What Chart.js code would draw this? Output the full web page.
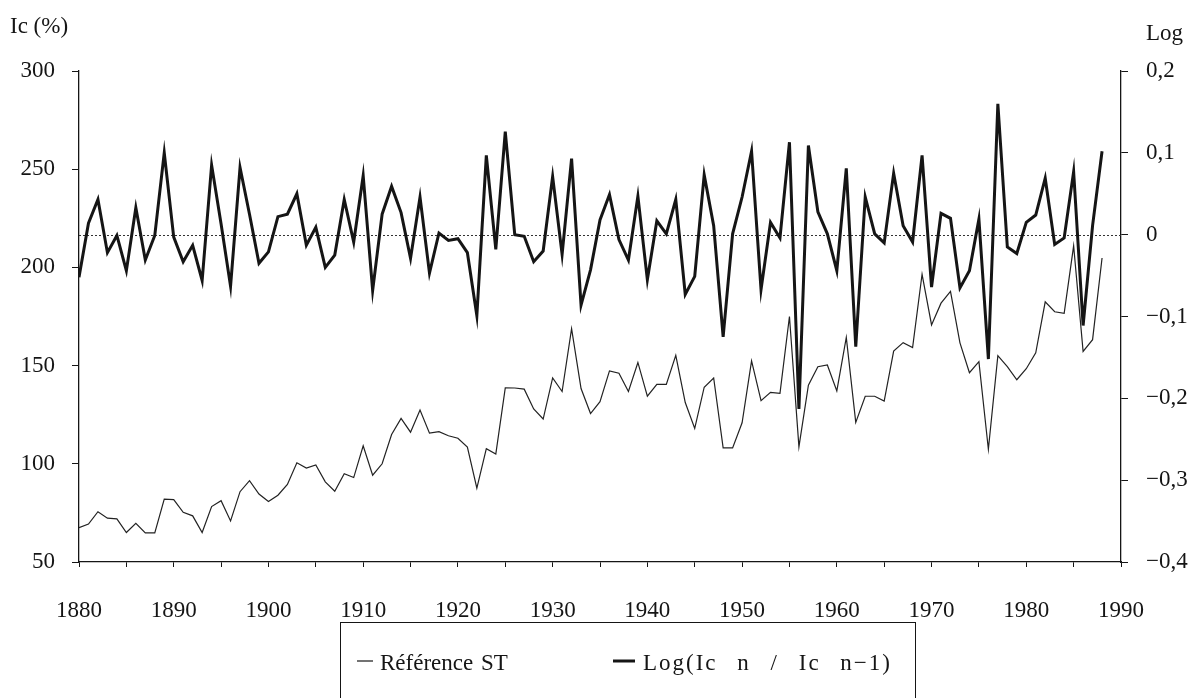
<!DOCTYPE html>
<html>
<head>
<meta charset="utf-8">
<script src="https://cdn.jsdelivr.net/npm/chart.js@4.4.1/dist/chart.umd.min.js"></script>
<style>
  html, body { margin: 0; padding: 0; background: #fff; }
  canvas { display: block; }
</style>
</head>
<body>
<canvas id="chart" width="1200" height="698"></canvas>
<script>
'use strict';

// Years of the two series.
var years = [
  1880, 1881, 1882, 1883, 1884, 1885, 1886, 1887, 1888, 1889,
  1890, 1891, 1892, 1893, 1894, 1895, 1896, 1897, 1898, 1899,
  1900, 1901, 1902, 1903, 1904, 1905, 1906, 1907, 1908, 1909,
  1910, 1911, 1912, 1913, 1914, 1915, 1916, 1917, 1918, 1919,
  1920, 1921, 1922, 1923, 1924, 1925, 1926, 1927, 1928, 1929,
  1930, 1931, 1932, 1933, 1934, 1935, 1936, 1937, 1938, 1939,
  1940, 1941, 1942, 1943, 1944, 1945, 1946, 1947, 1948, 1949,
  1950, 1951, 1952, 1953, 1954, 1955, 1956, 1957, 1958, 1959,
  1960, 1961, 1962, 1963, 1964, 1965, 1966, 1967, 1968, 1969,
  1970, 1971, 1972, 1973, 1974, 1975, 1976, 1977, 1978, 1979,
  1980, 1981, 1982, 1983, 1984, 1985, 1986, 1987, 1988
];

// Ic (%) - left axis.
var referenceST = [
  67.5, 69.3, 75.6, 72.3, 72.0, 65.0, 69.7, 64.8, 64.8, 82.0,
  81.8, 75.3, 73.5, 65.0, 78.2, 81.2, 70.9, 85.8, 91.4, 84.6,
  80.8, 84.0, 89.5, 100.5, 97.8, 99.4, 90.8, 86.0, 94.9, 93.0,
  109.2, 94.2, 100.0, 114.9, 123.1, 116.1, 127.4, 115.6, 116.4, 114.3,
  113.0, 108.5, 87.6, 107.7, 105.0, 138.7, 138.6, 138.0, 127.9, 122.8,
  143.7, 136.8, 168.8, 138.3, 125.6, 131.6, 147.3, 146.1, 136.8, 151.6,
  134.4, 140.4, 140.4, 155.2, 131.2, 118.0, 139.0, 143.7, 108.1, 108.1,
  120.9, 152.4, 132.1, 136.4, 135.9, 175.0, 108.6, 140.0, 149.4, 150.3,
  137.1, 164.3, 121.1, 134.4, 134.4, 131.9, 157.4, 161.7, 159.2, 196.5,
  170.7, 181.8, 187.8, 161.6, 146.4, 152.0, 107.4, 155.1, 149.5, 142.8,
  148.4, 156.5, 182.5, 177.4, 176.6, 211.0, 157.2, 163.2, 204.8
];

// Log(Ic n / Ic n-1) - right axis.
var logRatio = [
  -0.052, 0.014, 0.043, -0.022, -0.001, -0.044, 0.033, -0.031, -0.001, 0.100,
  -0.003, -0.033, -0.013, -0.056, 0.085, 0.013, -0.063, 0.082, 0.025, -0.035,
  -0.021, 0.022, 0.025, 0.050, -0.013, 0.009, -0.040, -0.025, 0.043, -0.009,
  0.072, -0.068, 0.025, 0.059, 0.027, -0.029, 0.046, -0.047, 0.002, -0.007,
  -0.005, -0.022, -0.099, 0.097, -0.018, 0.126, 0.000, -0.002, -0.033, -0.020,
  0.071, -0.024, 0.093, -0.086, -0.043, 0.018, 0.049, -0.006, -0.031, 0.047,
  -0.055, 0.017, 0.001, 0.043, -0.073, -0.051, 0.073, 0.011, -0.125, 0.001,
  0.046, 0.102, -0.067, 0.015, -0.004, 0.113, -0.213, 0.109, 0.028, 0.001,
  -0.044, 0.081, -0.137, 0.046, 0.001, -0.010, 0.075, 0.011, -0.009, 0.097,
  -0.064, 0.026, 0.020, -0.065, -0.044, 0.019, -0.152, 0.160, -0.015, -0.023,
  0.015, 0.024, 0.069, -0.012, -0.004, 0.077, -0.111, 0.011, 0.102
];

// Axis ticks.
var xTickValues = [
  1880, 1885, 1890, 1895, 1900, 1905, 1910, 1915, 1920, 1925, 1930, 1935,
  1940, 1945, 1950, 1955, 1960, 1965, 1970, 1975, 1980, 1985, 1990
];
var xLabelYears = [1880, 1890, 1900, 1910, 1920, 1930, 1940, 1950, 1960, 1970, 1980, 1990];
var leftTicks = [50, 100, 150, 200, 250, 300];
var rightTicks = [-0.4, -0.3, -0.2, -0.1, 0, 0.1, 0.2];
var rightTickLabels = ['\u22120,4', '\u22120,3', '\u22120,2', '\u22120,1', '0', '0,1', '0,2'];

var seriesLabels = ['R\u00e9f\u00e9rence ST', 'Log(Ic n / Ic n\u22121)'];

var INK = '#151515';
var FONT = "'Liberation Serif', 'DejaVu Serif', serif";

function toPoints(values) {
  return values.map(function(v, i) {
    return { x: years[i], y: v };
  });
}

function fixedTicks(values) {
  return function(scale) {
    scale.ticks = values.map(function(v) { return { value: v }; });
  };
}

// Extra drawing: dotted zero line, corner titles and boxed legend.
var decorations = {
  id: 'decorations',
  beforeDatasetsDraw: function(chart) {
    var ctx = chart.ctx;
    var area = chart.chartArea;
    var y = Math.round(chart.scales.y1.getPixelForValue(0)) + 0.5;

    ctx.save();
    ctx.strokeStyle = '#333';
    ctx.lineWidth = 1;
    ctx.setLineDash([2, 2]);
    ctx.beginPath();
    ctx.moveTo(area.left, y);
    ctx.lineTo(area.right, y);
    ctx.stroke();
    ctx.restore();
  },
  afterDraw: function(chart) {
    var ctx = chart.ctx;
    ctx.save();
    ctx.fillStyle = INK;
    ctx.strokeStyle = INK;
    ctx.textBaseline = 'alphabetic';
    ctx.font = '23px ' + FONT;
    ctx.fillText('Ic (%)', 10, 33);
    ctx.fillText('Log', 1146, 40);

    // Legend box, its bottom runs off the picture.
    ctx.lineWidth = 1;
    ctx.strokeRect(340.5, 622.5, 575, 110);

    // The second label is set looser than the first in the original.
    var entries = [
      { lineX: 357, lineLen: 16, textX: 380, letter: '0px', word: '2px' },
      { lineX: 613, lineLen: 22, textX: 643, letter: '2px', word: '12px' }
    ];
    ctx.textBaseline = 'middle';
    entries.forEach(function(entry, i) {
      var ds = chart.data.datasets[i];
      ctx.lineWidth = ds.borderWidth;
      ctx.beginPath();
      ctx.moveTo(entry.lineX, 661);
      ctx.lineTo(entry.lineX + entry.lineLen, 661);
      ctx.stroke();
      if ('letterSpacing' in ctx) {
        ctx.letterSpacing = entry.letter;
      }
      if ('wordSpacing' in ctx) {
        ctx.wordSpacing = entry.word;
      }
      ctx.fillText(ds.label, entry.textX, 664);
    });
    ctx.restore();
  }
};

Chart.defaults.font.family = FONT;
Chart.defaults.font.size = 23;
Chart.defaults.color = INK;

new Chart(document.getElementById('chart'), {
  type: 'line',
  data: {
    datasets: [
      {
        label: seriesLabels[0],
        data: toPoints(referenceST),
        yAxisID: 'y',
        borderColor: '#222',
        borderWidth: 1.2,
        pointRadius: 0,
        tension: 0
      },
      {
        label: seriesLabels[1],
        data: toPoints(logRatio),
        yAxisID: 'y1',
        borderColor: INK,
        borderWidth: 3,
        pointRadius: 0,
        tension: 0
      }
    ]
  },
  options: {
    responsive: false,
    animation: false,
    devicePixelRatio: 1,
    layout: { padding: { top: 71, left: 0, right: 0, bottom: 0 } },
    plugins: {
      legend: { display: false },
      tooltip: { enabled: false }
    },
    scales: {
      x: {
        type: 'linear',
        min: 1880,
        max: 1990,
        afterBuildTicks: fixedTicks(xTickValues),
        afterFit: function(scale) { scale.height = 136; },
        border: { color: INK, width: 1.3 },
        grid: { drawOnChartArea: false, tickLength: 5, tickColor: INK },
        ticks: {
          autoSkip: false,
          maxRotation: 0,
          padding: 30,
          callback: function(value) {
            return xLabelYears.indexOf(value) >= 0 ? String(value) : '';
          }
        }
      },
      y: {
        position: 'left',
        min: 50,
        max: 300,
        afterBuildTicks: fixedTicks(leftTicks),
        afterFit: function(scale) { scale.width = 79; },
        border: { color: INK, width: 1.3 },
        grid: { drawOnChartArea: false, tickLength: 7, tickColor: INK },
        ticks: { padding: 17 }
      },
      y1: {
        position: 'right',
        min: -0.4,
        max: 0.2,
        afterBuildTicks: fixedTicks(rightTicks),
        afterFit: function(scale) { scale.width = 79; },
        border: { color: INK, width: 1.3 },
        grid: { drawOnChartArea: false, tickLength: 7, tickColor: INK },
        ticks: {
          padding: 18,
          callback: function(value) {
            var i = rightTicks.findIndex(function(t) { return Math.abs(t - value) < 1e-9; });
            return i >= 0 ? rightTickLabels[i] : '';
          }
        }
      }
    }
  },
  plugins: [decorations]
});
</script>
</body>
</html>
